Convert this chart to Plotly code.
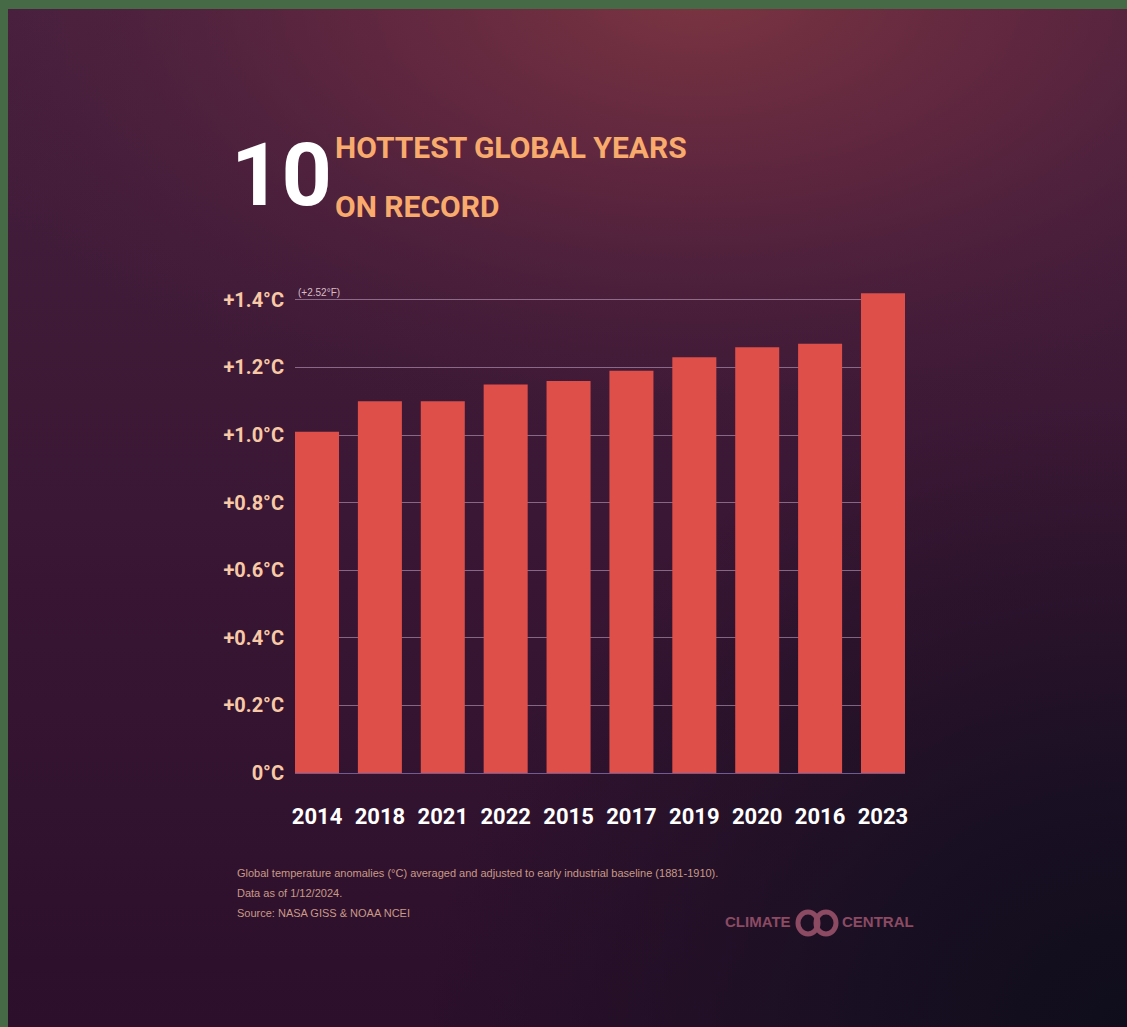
import base64
import plotly.graph_objects as go

# Ten hottest years, ordered from coolest to warmest anomaly (°C vs 1881-1910)
years = ["2014", "2018", "2021", "2022", "2015", "2017", "2019", "2020", "2016", "2023"]
anomaly_c = [1.01, 1.10, 1.10, 1.15, 1.16, 1.19, 1.23, 1.26, 1.27, 1.42]

y_ticks = [0, 0.2, 0.4, 0.6, 0.8, 1.0, 1.2, 1.4]
y_tick_labels = ["0°C", "+0.2°C", "+0.4°C", "+0.6°C", "+0.8°C", "+1.0°C", "+1.2°C", "+1.4°C"]

W, H = 1127, 1027
PL, PR, PT, PB = 295, 905, 283, 773  # plot area in pixels

HEAD = "Roboto, Liberation Sans, Arial, sans-serif"
BODY = "Liberation Sans, Arial, sans-serif"


def px(x):
    return (x - PL) / (PR - PL)


def py(y):
    return (PB - y) / (PB - PT)


# Background: dark plum with a warm glow at the top and near-black corner bottom right
bg_w, bg_h = W - 8, H - 9
svg = f"""<svg xmlns='http://www.w3.org/2000/svg' width='{bg_w}' height='{bg_h}' viewBox='0 0 {bg_w} {bg_h}' preserveAspectRatio='none'>
<defs>
<linearGradient id='base' x1='0' y1='0' x2='0' y2='1'>
<stop offset='0' stop-color='#47203e'/>
<stop offset='0.5' stop-color='#3a1734'/>
<stop offset='1' stop-color='#2b0f2b'/>
</linearGradient>
<radialGradient id='glow' gradientUnits='userSpaceOnUse' cx='0' cy='0' r='500' gradientTransform='translate(690,-20) scale(1.6,0.9)'>
<stop offset='0' stop-color='#7c3541' stop-opacity='1'/>
<stop offset='0.45' stop-color='#6a2a40' stop-opacity='0.65'/>
<stop offset='1' stop-color='#4a1f3c' stop-opacity='0'/>
</radialGradient>
<radialGradient id='shade' gradientUnits='userSpaceOnUse' cx='0' cy='0' r='700' gradientTransform='translate({bg_w},{bg_h}) scale(1.0,0.9)'>
<stop offset='0' stop-color='#0f0d1b' stop-opacity='1'/>
<stop offset='0.35' stop-color='#140f20' stop-opacity='0.85'/>
<stop offset='1' stop-color='#1a0f22' stop-opacity='0'/>
</radialGradient>
</defs>
<rect width='{bg_w}' height='{bg_h}' fill='url(#base)'/>
<rect width='{bg_w}' height='{bg_h}' fill='url(#glow)'/>
<rect width='{bg_w}' height='{bg_h}' fill='url(#shade)'/>
</svg>"""
bg_uri = "data:image/svg+xml;base64," + base64.b64encode(svg.encode()).decode()

fig = go.Figure(
    go.Bar(
        x=years,
        y=anomaly_c,
        marker=dict(color="#dd4f48", line=dict(width=0)),
        hovertemplate="%{x}: +%{y:.2f}°C<extra></extra>",
    )
)

fig.update_layout(
    width=W,
    height=H,
    margin=dict(l=PL, r=W - PR, t=PT, b=H - PB, pad=0),
    paper_bgcolor="#476a46",
    plot_bgcolor="rgba(0,0,0,0)",
    bargap=0.30,
    showlegend=False,
    images=[
        dict(
            source=bg_uri,
            xref="paper", yref="paper",
            x=px(8), y=py(9),
            sizex=bg_w / (PR - PL), sizey=bg_h / (PB - PT),
            xanchor="left", yanchor="top",
            sizing="stretch", layer="below",
        )
    ],
)

fig.update_xaxes(
    type="category",
    range=[-0.35, 9.35],
    showgrid=False,
    showline=False,
    ticks="",
    tickangle=0,
    ticklabelstandoff=28,
    tickfont=dict(family=HEAD, size=22, color="#ffffff", weight="bold"),
)
fig.update_yaxes(
    range=[0, 1.45],
    tickvals=y_ticks,
    ticktext=y_tick_labels,
    showgrid=True,
    gridcolor="rgba(200,170,200,0.55)",
    gridwidth=1,
    zeroline=True,
    zerolinecolor="rgba(120,100,160,0.9)",
    zerolinewidth=1,
    showline=False,
    ticks="",
    ticklabelstandoff=10,
    tickfont=dict(family=HEAD, size=20, color="#f8c9a6", weight="bold"),
)

annotations = [
    dict(text="<b>10</b>", x=px(229), y=py(174), xanchor="left", yanchor="middle",
         font=dict(family=HEAD, size=88, color="#ffffff")),
    dict(text="<b>HOTTEST GLOBAL YEARS</b>", x=px(333), y=py(147), xanchor="left", yanchor="middle",
         font=dict(family=HEAD, size=30, color="#f8ab6c")),
    dict(text="<b>ON RECORD</b>", x=px(333), y=py(207), xanchor="left", yanchor="middle",
         font=dict(family=HEAD, size=30, color="#f8ab6c")),
    dict(text="(+2.52°F)", x=px(296), y=py(300), xanchor="left", yanchor="bottom",
         font=dict(family=BODY, size=10, color="#d9bcc6")),
    dict(text="Global temperature anomalies (°C) averaged and adjusted to early industrial baseline (1881-1910).",
         x=px(235), y=py(873), xanchor="left", yanchor="middle",
         font=dict(family=BODY, size=11, color="#c99a86")),
    dict(text="Data as of 1/12/2024.", x=px(235), y=py(893), xanchor="left", yanchor="middle",
         font=dict(family=BODY, size=11, color="#c99a86")),
    dict(text="Source: NASA GISS & NOAA NCEI", x=px(235), y=py(913), xanchor="left", yanchor="middle",
         font=dict(family=BODY, size=11, color="#c99a86")),
    dict(text="<b>CLIMATE</b>", x=px(793), y=py(922), xanchor="right", yanchor="middle",
         font=dict(family=BODY, size=15, color="#8c4a63")),
    dict(text="<b>CENTRAL</b>", x=px(840), y=py(922), xanchor="left", yanchor="middle",
         font=dict(family=BODY, size=15, color="#8c4a63")),
]
for a in annotations:
    a.update(xref="paper", yref="paper", showarrow=False)
fig.update_layout(annotations=annotations)

# Climate Central mark: two interlocking rings
for cx in (808, 826):
    fig.add_shape(
        type="circle", xref="paper", yref="paper",
        x0=px(cx - 10), x1=px(cx + 10), y0=py(934), y1=py(912),
        line=dict(color="#8c4a63", width=5), fillcolor="rgba(0,0,0,0)",
    )

fig.write_html("out.html")
